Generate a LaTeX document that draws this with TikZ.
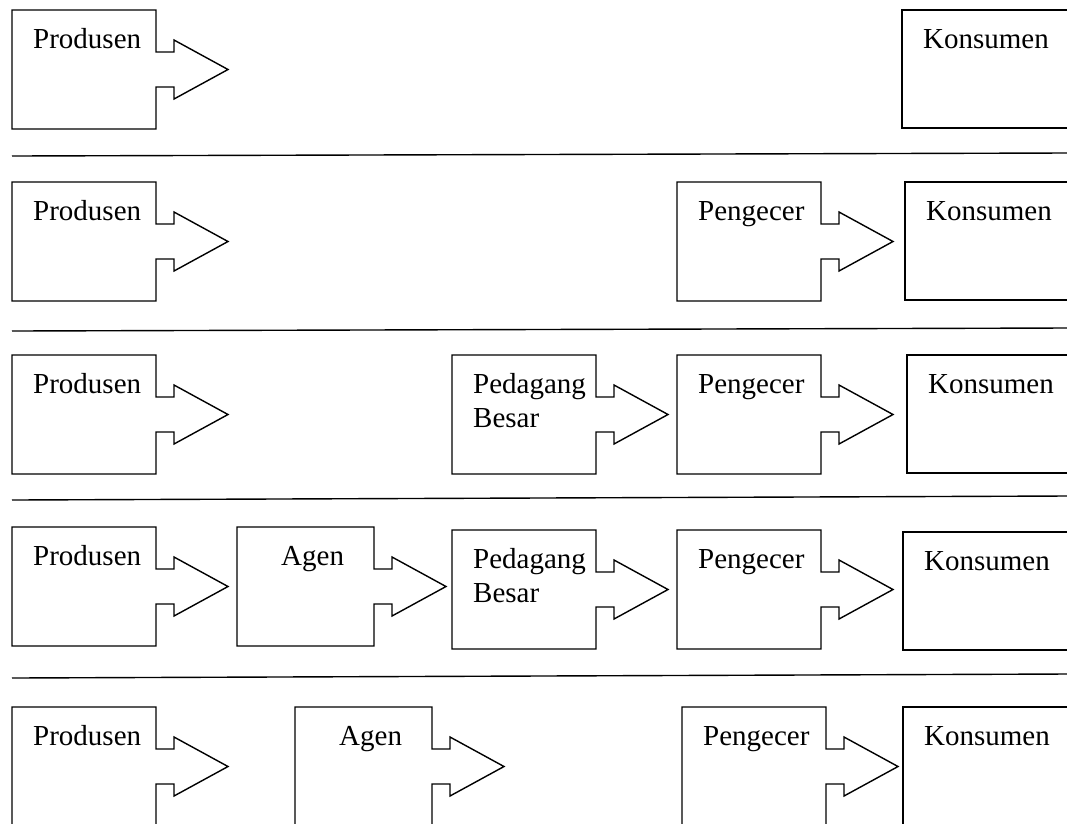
\documentclass[tikz,border=0pt]{standalone}
\usepackage{fontspec}
\setmainfont{Liberation Serif}
\newcommand\arrowbox[6]{% #1 x, #2 y, #3 w, #4 name, #5 text, #6 text dx
  \draw[abshape,shift={(#1,#2)}] (0,0) -- (#3,0) -- (#3,42) -- ({#3+18},42) -- ({#3+18},30)
    -- ({#3+72},59.5) -- ({#3+18},89) -- ({#3+18},77) -- (#3,77) -- (#3,119) -- (0,119) -- cycle;
  \node[lbl] (#4) at ({#1+#6},{#2+38}) {#5};
}
\newcommand\konsbox[3]{% #1 x, #2 y, #3 name
  \draw[abshape] (1090,#2) -- (#1,#2) -- (#1,{#2+118}) -- (1090,{#2+118});
  \node[lbl] (#3) at ({#1+21},{#2+38}) {Konsumen};
}
\newcommand\twolines[2]{\begin{tabular}[t]{@{}l@{}}#1\\#2\end{tabular}}
\begin{document}
\begin{tikzpicture}[x=1pt,y=-1pt,
  abshape/.style={draw=black, line width=1.4pt, line join=miter},
  lbl/.style={anchor=base west, inner sep=0pt, text=black, font=\fontsize{29}{34}\selectfont},
  sepline/.style={draw=black, line width=1.4pt}]
\useasboundingbox (0,0) rectangle (1067,823);
\clip (0,0) rectangle (1067,823);
\fill[white] (0,0) rectangle (1067,823);

% separators
\coordinate (s1a) at (12,156); \coordinate (s1b) at (1067,153);
\coordinate (s2a) at (12,331); \coordinate (s2b) at (1067,328);
\coordinate (s3a) at (12,500); \coordinate (s3b) at (1067,496);
\coordinate (s4a) at (12,678); \coordinate (s4b) at (1067,674);
\draw[sepline] (s1a) -- (s1b);
\draw[sepline] (s2a) -- (s2b);
\draw[sepline] (s3a) -- (s3b);
\draw[sepline] (s4a) -- (s4b);

% row 1
\arrowbox{12}{10}{144}{p1}{Produsen}{21}
\konsbox{902}{10}{k1}

% row 2
\arrowbox{12}{182}{144}{p2}{Produsen}{21}
\arrowbox{677}{182}{144}{e2}{Pengecer}{21}
\konsbox{905}{182}{k2}

% row 3
\arrowbox{12}{355}{144}{p3}{Produsen}{21}
\arrowbox{452}{355}{144}{b3}{\twolines{Pedagang}{Besar}}{21}
\arrowbox{677}{355}{144}{e3}{Pengecer}{21}
\konsbox{907}{355}{k3}

% row 4
\arrowbox{12}{527}{144}{p4}{Produsen}{21}
\arrowbox{237}{527}{137}{a4}{Agen}{44}
\arrowbox{452}{530}{144}{b4}{\twolines{Pedagang}{Besar}}{21}
\arrowbox{677}{530}{144}{e4}{Pengecer}{21}
\konsbox{903}{532}{k4}

% row 5
\arrowbox{12}{707}{144}{p5}{Produsen}{21}
\arrowbox{295}{707}{137}{a5}{Agen}{44}
\arrowbox{682}{707}{144}{e5}{Pengecer}{21}
\konsbox{903}{707}{k5}
\end{tikzpicture}
\end{document}
